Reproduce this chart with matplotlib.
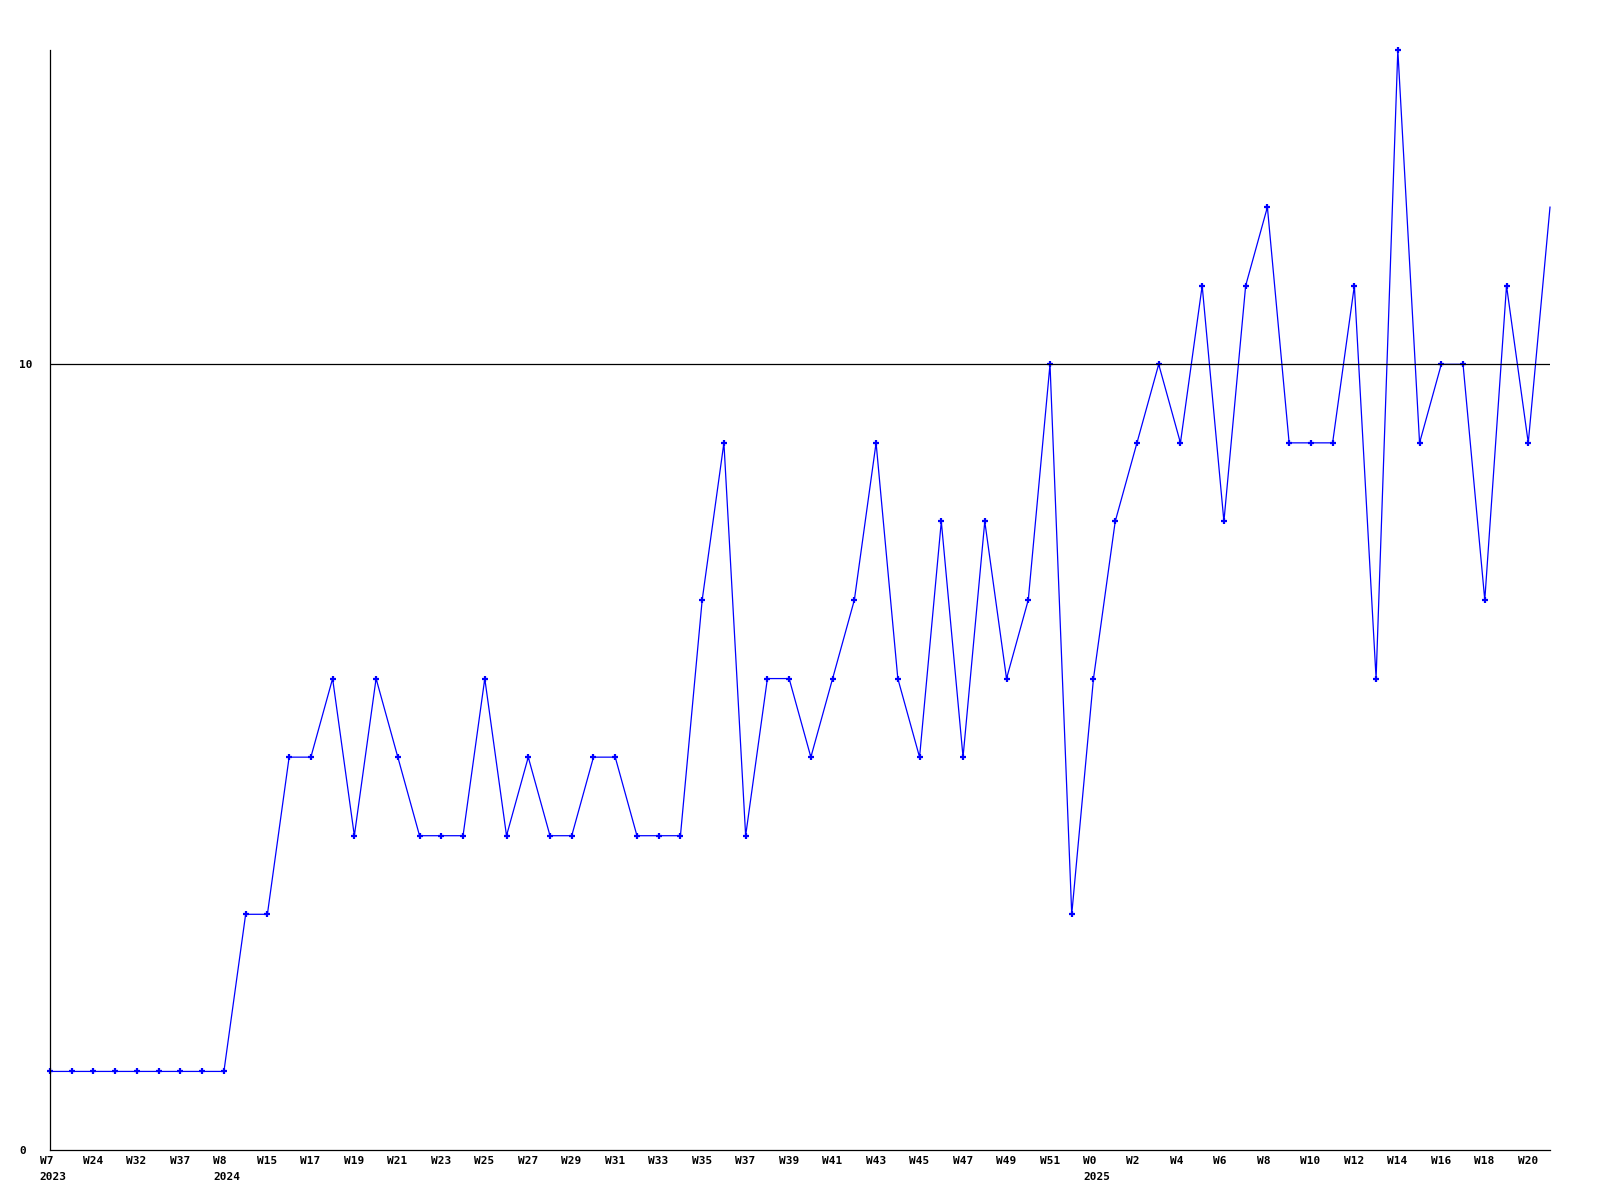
import matplotlib
matplotlib.use("Agg")
import matplotlib.pyplot as plt
from matplotlib.transforms import ScaledTranslation

# weekly counts, one point per week
values = [1, 1, 1, 1, 1, 1, 1, 1, 1, 3,
          3, 5, 5, 6, 4, 6, 5, 4, 4, 4,
          6, 4, 5, 4, 4, 5, 5, 4, 4, 4,
          7, 9, 4, 6, 6, 5, 6, 7, 9, 6,
          5, 8, 5, 8, 6, 7, 10, 3, 6, 8,
          9, 10, 9, 11, 8, 11, 12, 9, 9, 9,
          11, 6, 14, 9, 10, 10, 7, 11, 9, 12]

# labels shown on every second week
tick_labels = ["W7\n2023", "W24", "W32", "W37", "W8\n2024", "W15", "W17", "W19",
               "W21", "W23", "W25", "W27", "W29", "W31", "W33", "W35", "W37",
               "W39", "W41", "W43", "W45", "W47", "W49", "W51", "W0\n2025",
               "W2", "W4", "W6", "W8", "W10", "W12", "W14", "W16", "W18", "W20"]

y_ticks = [0, 10]
ref_level = 10

fig = plt.figure(figsize=(16, 12), dpi=100)
ax = fig.add_axes([50 / 1600, 50 / 1200, 1500 / 1600, 1100 / 1200])

x = list(range(len(values)))
ax.plot(x, values, color="#0000ff", lw=0.9, zorder=2, clip_on=False,
        marker="+", ms=4.5, mew=1.6, markevery=list(range(len(values) - 1)))
ax.axhline(ref_level, color="black", lw=0.9, zorder=3)

ax.set_xlim(0, len(values) - 1)
ax.set_ylim(0, 14)

for side in ("top", "right"):
    ax.spines[side].set_visible(False)
for side in ("left", "bottom"):
    ax.spines[side].set_linewidth(0.9)

font = dict(family="DejaVu Sans Mono", weight="bold", size=8)

ax.set_xticks(x[::2])
ax.set_xticklabels(tick_labels, ha="left", va="top", linespacing=1.8, **font)
ax.set_yticks(y_ticks)
ax.set_yticklabels([str(v) for v in y_ticks], ha="left", **font)
ax.tick_params(axis="x", length=0, pad=4)
ax.tick_params(axis="y", length=0, pad=22)

shift = ScaledTranslation(-10.5 / 100, 0, fig.dpi_scale_trans)
for lbl in ax.get_xticklabels():
    lbl.set_transform(lbl.get_transform() + shift)

fig.savefig("out.png", dpi=100)
